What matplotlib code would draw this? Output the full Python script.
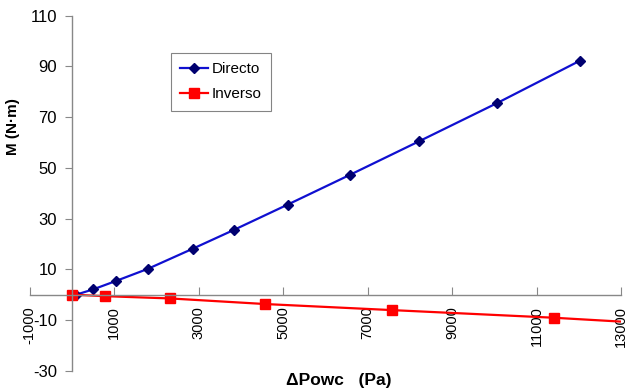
import numpy as np
import matplotlib.pyplot as plt

plt.rcParams['font.family'] = ['Liberation Sans', 'DejaVu Sans']
plt.rcParams['axes.unicode_minus'] = False

# Ensayo directo: presion diferencial (Pa) vs momento (N·m)
dp_directo = [100, 504, 1041, 1799, 2857, 3842, 5105, 6587, 8220, 10059, 12031]
m_directo = [0.0, 2.1, 5.4, 10.2, 18.1, 25.6, 35.5, 47.3, 60.5, 75.5, 92.3]

# Ensayo inverso
dp_inverso = [0, 788, 2327, 4568, 7581, 11401, 13800]
m_inverso = [0.0, -0.6, -1.5, -3.7, -6.1, -9.1, -11.4]

x_ticks = np.arange(-1000, 13001, 2000)
y_ticks = np.arange(-30, 111, 20)

fig = plt.figure(figsize=(6.26, 3.89), dpi=100)
ax = fig.add_axes([0.0476, 0.047, 0.9445, 0.9126])

ax.plot(dp_directo, m_directo, color='#1010D0', lw=1.6, marker='D', ms=5,
        mfc='#000070', mec='#000070', label='Directo')
ax.plot(dp_inverso, m_inverso, color='#FF0000', lw=1.6, marker='s', ms=6.5,
        mfc='#FF0000', mec='#FF0000', label='Inverso')

ax.set_xlim(-1000, 13000)
ax.set_ylim(-30, 110)
ax.set_xticks(x_ticks)
ax.set_yticks(y_ticks)

# ejes cruzando en el origen, estilo Excel
for s in ['top', 'right']:
    ax.spines[s].set_visible(False)
ax.spines['left'].set_position(('data', 0))
ax.spines['bottom'].set_position(('data', 0))
for s in ['left', 'bottom']:
    ax.spines[s].set_color('#888888')
    ax.spines[s].set_linewidth(1.0)

ax.tick_params(axis='y', direction='out', length=5, color='#888888',
               labelsize=12, pad=6)
ax.tick_params(axis='x', direction='in', length=6, color='#888888',
               labelsize=10.5, labelrotation=90, pad=8)

leg = ax.legend(loc='upper left', bbox_to_anchor=(0.226, 0.917), fontsize=11,
                frameon=True, fancybox=False, handlelength=1.8,
                handletextpad=0.25, borderpad=0.6, labelspacing=0.75)
leg.get_frame().set_edgecolor('#666666')
leg.get_frame().set_linewidth(0.8)

fig.text(339 / 626, 1 - 380 / 389, '\u0394Powc   (Pa)', ha='center', va='center',
         fontsize=12.5, fontweight='bold')
fig.text(13 / 626, 1 - 127 / 389, 'M (N·m)', ha='center', va='center',
         rotation=90, fontsize=11, fontweight='bold')

fig.savefig('out.png', dpi=100)
